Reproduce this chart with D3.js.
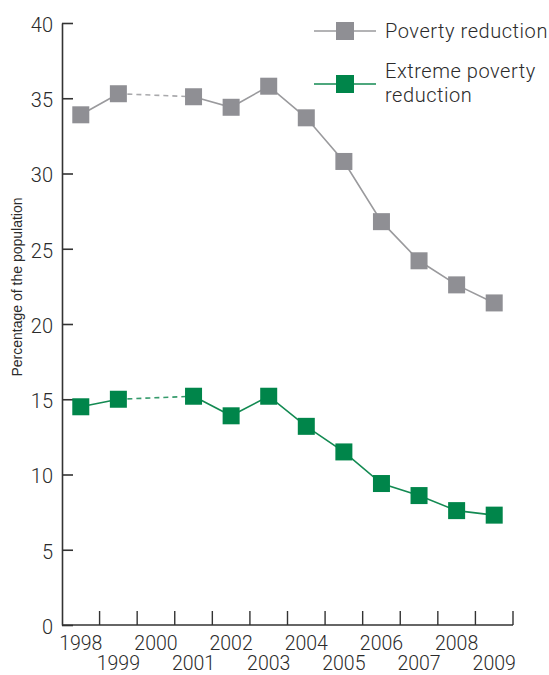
<!DOCTYPE html>
<html>
<head>
<meta charset="utf-8">
<script src="https://cdn.jsdelivr.net/npm/d3@7/dist/d3.min.js"></script>
<style>
  html, body { margin: 0; padding: 0; background: #fff; }
  svg text { font-family: "Roboto", "Liberation Sans", Arial, sans-serif; font-weight: 300; fill: #2b2b2b; }
</style>
</head>
<body>
<svg id="chart" width="549" height="675"></svg>
<script>
// ---- data ----
const years = [1998, 1999, 2000, 2001, 2002, 2003, 2004, 2005, 2006, 2007, 2008, 2009];
const povertyValues = [33.9, 35.3, null, 35.1, 34.4, 35.8, 33.7, 30.8, 26.8, 24.2, 22.6, 21.4];
const extremeValues = [14.5, 15.0, null, 15.2, 13.9, 15.2, 13.2, 11.5, 9.4, 8.6, 7.6, 7.3];
const yTicks = [0, 5, 10, 15, 20, 25, 30, 35, 40];
const seriesNames = ["Poverty reduction", ["Extreme poverty", "reduction"]];
const yLabel = "Percentage of the population";

(function () {
// ---- layout ----
const svg = d3.select("#chart");
const pLeft = 62, pRight = 513, pTop = 23, pBottom = 625;
const x = d3.scaleBand().domain(years).range([pLeft, pRight]).paddingInner(0).paddingOuter(0);
const y = d3.scaleLinear().domain([0, 40]).range([pBottom, pTop]);
const cx = yr => x(yr) + x.bandwidth() / 2;

const series = [
  { values: povertyValues, line: "#9a9a9d", marker: "#8f8f94" },
  { values: extremeValues, line: "#138a52", marker: "#00854a" }
];

// y axis
const yAxis = d3.axisLeft(y).tickValues(yTicks).tickSizeInner(-11).tickSizeOuter(0).tickPadding(9);
const yg = svg.append("g").attr("transform", `translate(${pLeft},0)`).call(yAxis);
yg.select(".domain").attr("stroke", "#333").attr("stroke-width", 1.6);
yg.selectAll(".tick line").attr("stroke", "#333").attr("stroke-width", 1.6);
yg.selectAll(".tick text").attr("font-size", 20).attr("dy", "0.42em")
  .style("font-family", "Roboto, 'Liberation Sans', sans-serif").style("font-weight", 300).attr("fill", "#2b2b2b");

// x axis baseline
svg.append("line").attr("x1", pLeft).attr("x2", pRight).attr("y1", pBottom).attr("y2", pBottom)
  .attr("stroke", "#333").attr("stroke-width", 1.6);
// x ticks at band boundaries
years.forEach(yr => {
  const xe = x(yr) + x.bandwidth();
  svg.append("line").attr("x1", xe).attr("x2", xe).attr("y1", pBottom).attr("y2", pBottom - 14)
    .attr("stroke", "#333").attr("stroke-width", 1.4);
});
// x labels alternating rows
years.forEach((yr, i) => {
  svg.append("text").attr("x", cx(yr)).attr("y", i % 2 === 0 ? 650 : 669.5)
    .attr("text-anchor", "middle").attr("font-size", 19.5).text(yr);
});

// y axis label
svg.append("text").attr("transform", `translate(22,287) rotate(-90)`)
  .attr("text-anchor", "middle").attr("font-size", 14)
  .style("font-family", "'Liberation Sans', Arial, sans-serif").style("font-weight", 400).text(yLabel);

// lines
const pts = s => years.map((yr, i) => ({ yr, v: s.values[i] }));
const line = d3.line().defined(d => d.v !== null).x(d => cx(d.yr)).y(d => y(d.v));
series.forEach(s => {
  const p = pts(s);
  svg.append("path").datum(p).attr("d", line).attr("fill", "none")
    .attr("stroke", s.line).attr("stroke-width", 1.6);
  const valid = p.filter(d => d.v !== null);
  for (let k = 0; k < valid.length - 1; k++) {
    const a = valid[k], b = valid[k + 1];
    if (years.indexOf(b.yr) - years.indexOf(a.yr) > 1) {
      svg.append("path").datum([a, b]).attr("d", line).attr("fill", "none")
        .attr("stroke", s.line).attr("stroke-width", 1.6).attr("stroke-dasharray", "5,4").attr("opacity", 0.85);
    }
  }
});
// markers
const ms = 17;
series.forEach(s => {
  svg.append("g").selectAll("rect").data(pts(s).filter(d => d.v !== null)).join("rect")
    .attr("x", d => cx(d.yr) - ms / 2).attr("y", d => y(d.v) - ms / 2)
    .attr("width", ms).attr("height", ms).attr("fill", s.marker);
});

// legend
const lg = svg.append("g");
const legendRows = [
  { s: series[0], ly: 31, lines: [seriesNames[0]], ty: [38] },
  { s: series[1], ly: 84, lines: seriesNames[1], ty: [77.5, 101.5] }
];
legendRows.forEach(r => {
  lg.append("line").attr("x1", 314).attr("x2", 376).attr("y1", r.ly).attr("y2", r.ly)
    .attr("stroke", r.s.line).attr("stroke-width", 1.6);
  lg.append("rect").attr("x", 345 - 9).attr("y", r.ly - 9).attr("width", 18).attr("height", 18).attr("fill", r.s.marker);
  r.lines.forEach((t, i) => {
    lg.append("text").attr("x", 385).attr("y", r.ty[i]).attr("font-size", 20)
      .attr("letter-spacing", "0.55px").text(t);
  });
});
})();
</script>
</body>
</html>
